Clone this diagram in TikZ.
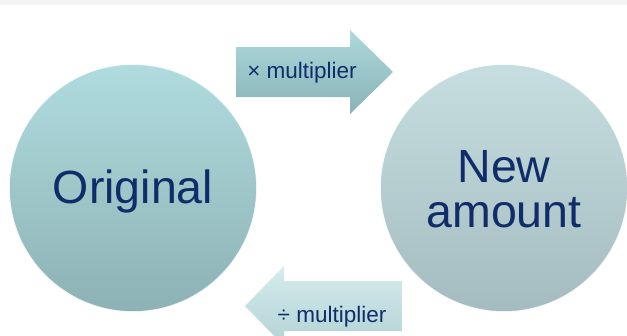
\documentclass[tikz,border=0pt]{standalone}
\usepackage{fontspec}
\setmainfont{Liberation Sans}
\definecolor{navy}{HTML}{0F2D69}
\definecolor{lctop}{HTML}{B0DCDF}
\definecolor{lcbot}{HTML}{8DB1B4}
\definecolor{rctop}{HTML}{C6DEE0}
\definecolor{rcbot}{HTML}{A4BCBF}
\definecolor{tatop}{HTML}{ABD9DC}
\definecolor{tabot}{HTML}{8AB3B6}
\definecolor{batop}{HTML}{D6ECEE}
\definecolor{babot}{HTML}{B2D2D4}
\definecolor{band}{HTML}{F4F4F4}
\tikzset{
  bigtext/.style={text=navy, font=\fontsize{46.5}{44}\selectfont, inner sep=0pt},
  arrowtext/.style={text=navy, font=\fontsize{22.5}{24}\selectfont, inner sep=0pt},
  rim/.style={draw=white, line width=1.6pt, draw opacity=0.85},
}
\begin{document}
\begin{tikzpicture}[x=1pt,y=-1pt]
\useasboundingbox (0,0) rectangle (627,335);
\fill[white] (0,0) rectangle (627,335);
\fill[band] (0,0) rectangle (627,5);
\begin{scope}
\clip (0,0) rectangle (627,335);
% circles
\shade[top color=lctop, bottom color=lcbot, rim] (133,188) circle[radius=124];
\shade[top color=rctop, bottom color=rcbot, rim] (504,188) circle[radius=124];
% top arrow
\shade[top color=tatop, bottom color=tabot]
  (236,47) -- (350,47) -- (350,30) -- (393,72) -- (350,114) -- (350,97) -- (236,97) -- cycle;
% bottom arrow
\shade[top color=batop, bottom color=babot]
  (402,281) -- (284,281) -- (284,266) -- (245,306) -- (284,346) -- (284,331) -- (402,331) -- cycle;
\end{scope}
\coordinate (c1) at (133,203);
\coordinate (c2) at (504,182);
\node[bigtext, anchor=base] (orig) at (c1) {Original};
\node[bigtext, anchor=base] (new) at (c2) {New};
\node[bigtext, anchor=base] (amount) at (504,227) {amount};
\node[arrowtext, anchor=base] (mul) at (302,78) {× multiplier};
\node[arrowtext, anchor=base] (div) at (332,322) {÷ multiplier};
\end{tikzpicture}
\end{document}
